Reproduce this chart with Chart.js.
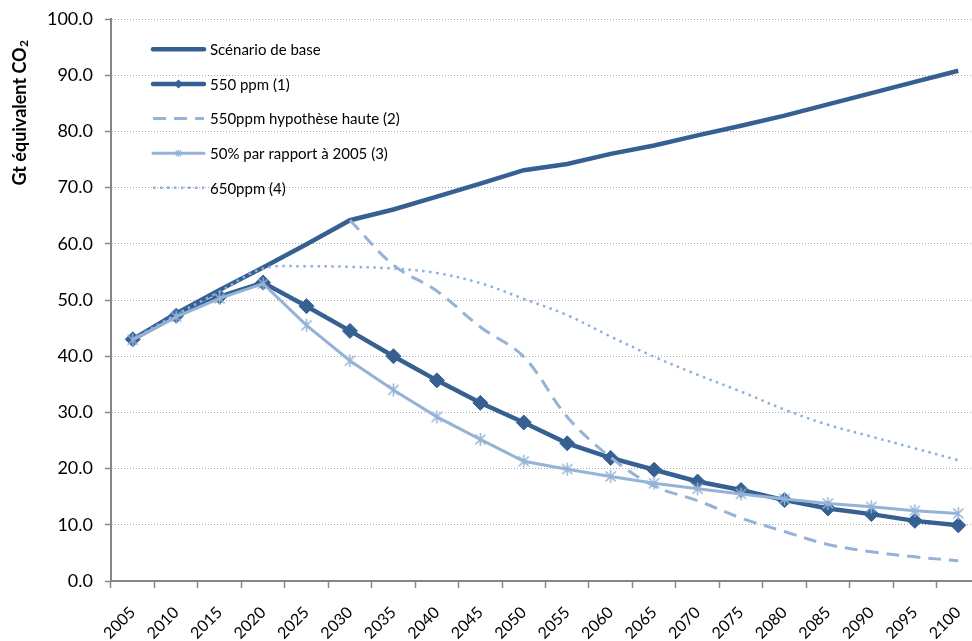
<!DOCTYPE html>
<html lang="fr">
<head>
<meta charset="utf-8">
<script src="https://cdn.jsdelivr.net/npm/chart.js@4.4.1/dist/chart.umd.min.js"></script>
<style>
  html, body { margin: 0; padding: 0; overflow: hidden; background: #fff; }
  #wrap { width: 990px; height: 641px; position: relative; }
</style>
</head>
<body>
<div id="wrap"><canvas id="co2-chart"></canvas></div>
<script>
const years = ["2005","2010","2015","2020","2025","2030","2035","2040","2045","2050",
               "2055","2060","2065","2070","2075","2080","2085","2090","2095","2100"];
const baseScenario = [43.0, 47.6, 51.8, 55.8, 59.9, 64.2, 66.1, 68.4, 70.7, 73.1,
                      74.2, 76.0, 77.5, 79.3, 81.0, 82.8, 84.8, 86.8, 88.8, 90.8];
const ppm550 = [43.0, 47.2, 50.6, 53.1, 48.9, 44.5, 40.0, 35.7, 31.7, 28.2,
                24.5, 21.9, 19.8, 17.7, 16.2, 14.4, 12.9, 11.9, 10.7, 9.9];
const ppm550High = [null, null, null, null, null, 64.2, 56.2, 51.6, 45.2, 39.9,
                    29.2, 22.0, 16.9, 14.3, 11.2, 8.8, 6.5, 5.2, 4.3, 3.6];
const cut50 = [42.9, 47.0, 50.3, 52.9, 45.5, 39.2, 34.0, 29.2, 25.2, 21.3,
               19.9, 18.6, 17.4, 16.4, 15.5, 14.6, 13.8, 13.2, 12.5, 12.0];
const ppm650 = [43.0, 47.4, 51.5, 55.6, 56.0, 55.9, 55.6, 54.8, 53.0, 50.2,
                47.3, 43.5, 39.9, 36.7, 33.7, 30.5, 27.8, 25.7, 23.6, 21.5];
const legendLabels = ["Scénario de base", "550 ppm (1)", "550ppm hypothèse haute (2)",
                      "50% par rapport à 2005 (3)", "650ppm (4)"];

const darkBlue = '#376092';
const lightBlue = '#95B3D7';
const dotBlue = '#8EB0DB';

// asterisk marker (x + vertical bar) like the Excel one
function makeAsterisk(size, color, lw) {
  const c = document.createElement('canvas');
  c.width = c.height = size;
  const g = c.getContext('2d');
  const m = size / 2, r = size / 2 - 1, d = r * 0.78;
  g.strokeStyle = color;
  g.lineWidth = lw;
  g.beginPath();
  g.moveTo(m, m - r); g.lineTo(m, m + r);
  g.moveTo(m - d, m - d); g.lineTo(m + d, m + d);
  g.moveTo(m + d, m - d); g.lineTo(m - d, m + d);
  g.stroke();
  return c;
}
const starBig = makeAsterisk(15, lightBlue, 1.5);
const starSmall = makeAsterisk(9, lightBlue, 1.3);

Chart.defaults.font.family = 'Lato';
Chart.defaults.color = '#000';

// legend drawn inside the plot, plus the y title near the top
const insideLegend = {
  id: 'insideLegend',
  afterDraw(chart) {
    const ctx = chart.ctx;
    const rows = [49.3, 84, 118.5, 153.2, 187.7];
    chart.data.datasets.forEach((ds, i) => {
      const y = rows[i];
      ctx.save();
      ctx.strokeStyle = ds.borderColor;
      ctx.lineWidth = ds.borderWidth;
      ctx.setLineDash(ds.borderDash || []);
      ctx.lineCap = ds.borderDash ? 'butt' : 'round';
      ctx.beginPath();
      ctx.moveTo(153, y);
      ctx.lineTo(204, y);
      ctx.stroke();
      ctx.setLineDash([]);
      if (ds.pointStyle === 'rectRot') {
        ctx.fillStyle = ds.borderColor;
        ctx.beginPath();
        ctx.moveTo(178.5, y - 4.5); ctx.lineTo(183, y); ctx.lineTo(178.5, y + 4.5); ctx.lineTo(174, y);
        ctx.closePath();
        ctx.fill();
      } else if (ds.pointStyle === starBig) {
        ctx.drawImage(starSmall, 178.5 - 4.5, y - 4.5);
      }
      ctx.fillStyle = '#000';
      ctx.font = '15px Lato';
      ctx.textBaseline = 'middle';
      ctx.fillText(legendLabels[i], 210, y + 1);
      ctx.restore();
    });

    // y axis title
    ctx.save();
    ctx.translate(20, 113);
    ctx.rotate(-Math.PI / 2);
    ctx.fillStyle = '#000';
    ctx.font = 'bold 18px Lato';
    const main = 'Gt équivalent CO';
    const wMain = ctx.measureText(main).width;
    ctx.font = 'bold 12px Lato';
    const wSub = ctx.measureText('2').width;
    const start = -(wMain + wSub) / 2;
    ctx.textBaseline = 'middle';
    ctx.textAlign = 'left';
    ctx.font = 'bold 18px Lato';
    ctx.fillText(main, start, 0);
    ctx.font = 'bold 12px Lato';
    ctx.fillText('2', start + wMain + 0.5, 4.5);
    ctx.restore();
  }
};

new Chart('co2-chart', {
  type: 'line',
  data: {
    labels: years,
    datasets: [
      {
        label: legendLabels[0],
        data: baseScenario,
        borderColor: darkBlue,
        borderWidth: 4.5,
        pointRadius: 0,
        tension: 0,
        order: 5
      },
      {
        label: legendLabels[1],
        data: ppm550,
        borderColor: darkBlue,
        backgroundColor: darkBlue,
        borderWidth: 4.5,
        pointStyle: 'rectRot',
        pointRadius: 7.5,
        pointBorderWidth: 1,
        tension: 0,
        order: 4
      },
      {
        label: legendLabels[2],
        data: ppm550High,
        borderColor: lightBlue,
        borderWidth: 3,
        borderDash: [13, 8],
        pointRadius: 0,
        tension: 0.35,
        spanGaps: false,
        order: 3
      },
      {
        label: legendLabels[3],
        data: cut50,
        borderColor: lightBlue,
        borderWidth: 3,
        pointStyle: starBig,
        pointRadius: 7,
        tension: 0,
        order: 2
      },
      {
        label: legendLabels[4],
        data: ppm650,
        borderColor: dotBlue,
        borderWidth: 2.5,
        borderDash: [2.5, 4.5],
        pointRadius: 0,
        tension: 0.35,
        order: 1
      }
    ]
  },
  options: {
    responsive: true,
    maintainAspectRatio: false,
    animation: false,
    layout: { padding: { top: 19, right: 5.3, left: 0, bottom: 0 } },
    plugins: {
      legend: { display: false },
      tooltip: { enabled: false }
    },
    scales: {
      x: {
        offset: true,
        grid: {
          offset: true,
          drawOnChartArea: false,
          tickLength: 7,
          tickColor: '#868686',
          tickWidth: 1.5
        },
        border: { color: '#868686', width: 2 },
        ticks: {
          minRotation: 45,
          maxRotation: 45,
          autoSkip: false,
          padding: 15,
          font: { size: 16 },
          color: '#000'
        },
        afterFit(scale) { scale.height = 60; }
      },
      y: {
        min: 0,
        max: 100,
        grid: {
          color: '#a6a6a6',
          lineWidth: 1,
          tickLength: 6,
          tickColor: '#868686',
          tickWidth: 1.5
        },
        border: { color: '#868686', width: 2, dash: [1, 2] },
        ticks: {
          stepSize: 10,
          padding: 12,
          font: { size: 18 },
          color: '#000',
          callback: v => v.toFixed(1)
        },
        afterFit(scale) {
          scale.width = 111;
          scale.paddingTop = 8;
          scale.paddingBottom = 8;
        }
      }
    }
  },
  plugins: [insideLegend]
});
</script>
</body>
</html>
